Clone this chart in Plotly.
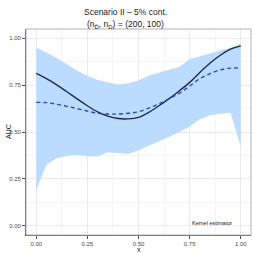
import plotly.graph_objects as go

x_grid = [0.00, 0.05, 0.10, 0.15, 0.20, 0.25, 0.30, 0.35, 0.40, 0.45, 0.50,
          0.55, 0.60, 0.65, 0.70, 0.75, 0.80, 0.85, 0.90, 0.95, 1.00]
auc_true = [0.813, 0.785, 0.752, 0.715, 0.677, 0.640, 0.607, 0.585, 0.572, 0.570, 0.578,
            0.605, 0.640, 0.678, 0.720, 0.765, 0.818, 0.868, 0.910, 0.942, 0.960]
auc_est = [0.658, 0.657, 0.648, 0.637, 0.625, 0.612, 0.600, 0.596, 0.596, 0.600, 0.608,
           0.628, 0.650, 0.678, 0.708, 0.745, 0.785, 0.812, 0.832, 0.841, 0.842]
band_upper = [0.950, 0.925, 0.895, 0.860, 0.828, 0.800, 0.778, 0.765, 0.753, 0.760, 0.775,
              0.800, 0.815, 0.830, 0.848, 0.888, 0.905, 0.918, 0.935, 0.950, 0.972]
band_lower = [0.190, 0.325, 0.360, 0.372, 0.378, 0.370, 0.369, 0.392, 0.388, 0.383, 0.402,
              0.425, 0.450, 0.475, 0.500, 0.530, 0.568, 0.590, 0.597, 0.603, 0.420]
tick_vals = [0.00, 0.25, 0.50, 0.75, 1.00]

FONT = "Liberation Sans, Arial, sans-serif"

fig = go.Figure()
fig.add_trace(go.Scatter(x=x_grid, y=band_upper, mode="lines", line=dict(width=0),
                         showlegend=False, hoverinfo="skip"))
fig.add_trace(go.Scatter(x=x_grid, y=band_lower, mode="lines", line=dict(width=0),
                         fill="tonexty", fillcolor="#bcdcff", showlegend=False, hoverinfo="skip"))
fig.add_trace(go.Scatter(x=x_grid, y=auc_true, mode="lines",
                         line=dict(color="#1c2b4a", width=1.4, shape="spline"), showlegend=False))
fig.add_trace(go.Scatter(x=x_grid, y=auc_est, mode="lines",
                         line=dict(color="#2b47c2", width=1.4, dash="4px,3px", shape="spline"),
                         showlegend=False))

axis_common = dict(
    range=[-0.05, 1.05], tickvals=tick_vals, tickformat=".2f",
    showgrid=True, gridcolor="#ebebeb", gridwidth=0.8,
    minor=dict(dtick=0.125, tick0=0, showgrid=True, gridcolor="#f5f5f5", gridwidth=0.5),
    zeroline=False, showline=True, linecolor="#4d4d4d", linewidth=0.8,
    ticks="outside", ticklen=3, tickcolor="#4d4d4d", tickwidth=0.8,
    tickfont=dict(family=FONT, size=6, color="#4d4d4d"),
    automargin=False,
)

fig.update_layout(
    width=254, height=254,
    margin=dict(l=26, r=3, t=29, b=19),
    paper_bgcolor="white", plot_bgcolor="white",
    xaxis=axis_common, yaxis=axis_common,
    font=dict(family=FONT),
    shapes=[dict(type="rect", xref="paper", yref="paper", x0=0, x1=1, y0=0, y1=1,
                 line=dict(color="#b3b3b3", width=1), layer="above")],
    annotations=[
        dict(text="Scenario II \u2013 5% cont.", xref="paper", yref="paper",
             x=0.44, y=1.0, yshift=17, xanchor="center", yanchor="middle",
             showarrow=False, font=dict(family=FONT, size=8.5, color="#1a1a1a")),
        dict(text="(n<sub>D\u0304</sub>, n<sub>D</sub>) = (200, 100)", xref="paper", yref="paper",
             x=0.44, y=1.0, yshift=5, xanchor="center", yanchor="middle",
             showarrow=False, font=dict(family=FONT, size=8.5, color="#1a1a1a")),
        dict(text="AUC", xref="paper", yref="paper", x=0, xshift=-18, y=0.5,
             textangle=-90, xanchor="center", yanchor="middle", showarrow=False,
             font=dict(family=FONT, size=7, color="#1a1a1a")),
        dict(text="x", xref="paper", yref="paper", x=0.5, y=0, yshift=-14.5,
             xanchor="center", yanchor="middle", showarrow=False,
             font=dict(family=FONT, size=7, color="#1a1a1a")),
        dict(text="Kernel estimator", xref="x", yref="y", x=0.86, y=0.016,
             xanchor="center", yanchor="middle", showarrow=False,
             font=dict(family=FONT, size=5.5, color="#1a1a1a")),
    ],
)

fig.write_html("out.html", config={"displayModeBar": False},
               post_script="document.body.style.margin='0';")
